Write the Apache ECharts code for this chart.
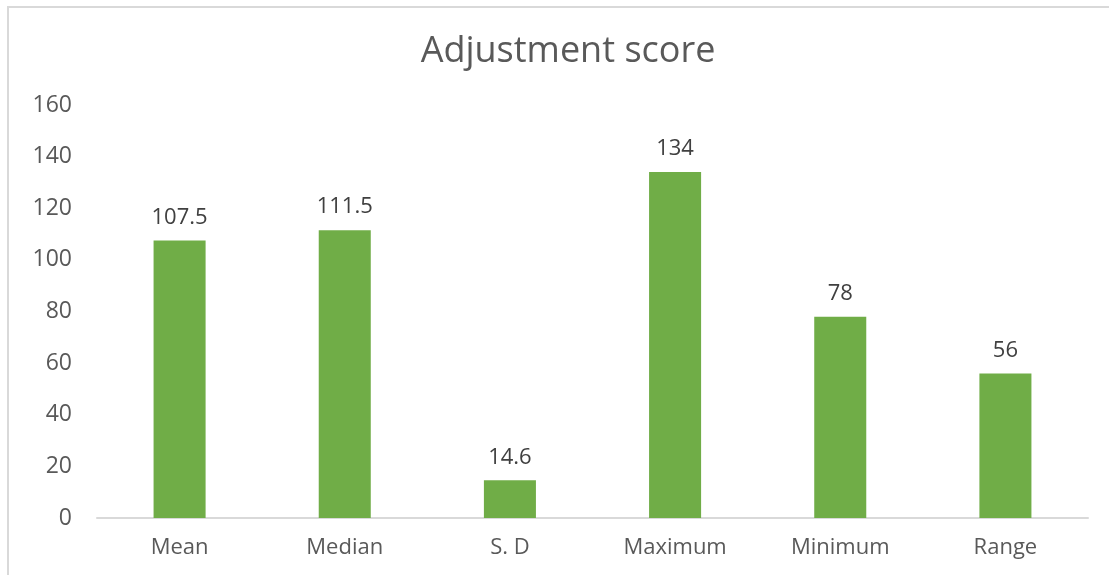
<!DOCTYPE html>
<html>
<head>
<meta charset="utf-8">
<script src="https://cdn.jsdelivr.net/npm/echarts@6/dist/echarts.min.js"></script>
<style>html,body{margin:0;padding:0;background:#fff;}#c{width:1109px;height:575px;}</style>
</head>
<body>
<div id="c"></div>
<script>
const categories = ['Mean', 'Median', 'S. D', 'Maximum', 'Minimum', 'Range'];
const values = [107.5, 111.5, 14.6, 134, 78, 56];
const yTicks = [0, 20, 40, 60, 80, 100, 120, 140, 160];
const titleText = 'Adjustment score';

const chart = echarts.init(document.getElementById('c'), null, {renderer: 'canvas'});
const FONT = '"Open Sans", sans-serif';
chart.setOption({
  animation: false,
  backgroundColor: '#ffffff',
  title: {
    text: titleText,
    left: 563,
    textAlign: 'center',
    top: 29,
    textStyle: {fontFamily: FONT, fontSize: 36, fontWeight: 'normal', color: '#595959'}
  },
  graphic: [{
    type: 'rect',
    shape: {x: 8, y: 7, width: 1300, height: 800},
    style: {fill: 'none', stroke: '#D9D9D9', lineWidth: 2},
    silent: true
  }],
  grid: {left: 97, right: 21, top: 105, bottom: 57},
  xAxis: {
    type: 'category',
    data: categories,
    axisLine: {lineStyle: {color: '#D9D9D9', width: 2}},
    axisTick: {show: false},
    axisLabel: {color: '#595959', fontFamily: FONT, fontSize: 22, margin: 19}
  },
  yAxis: {
    type: 'value',
    min: yTicks[0],
    max: yTicks[yTicks.length - 1],
    interval: yTicks[1] - yTicks[0],
    axisLine: {show: false},
    axisTick: {show: false},
    splitLine: {show: false},
    axisLabel: {color: '#595959', fontFamily: FONT, fontSize: 23, margin: 25}
  },
  series: [{
    type: 'bar',
    data: values,
    barWidth: '31.5%',
    itemStyle: {color: '#70AD47'},
    label: {
      show: true,
      position: 'top',
      distance: 12,
      color: '#404040',
      fontFamily: FONT,
      fontSize: 22
    }
  }]
});
</script>
</body>
</html>
